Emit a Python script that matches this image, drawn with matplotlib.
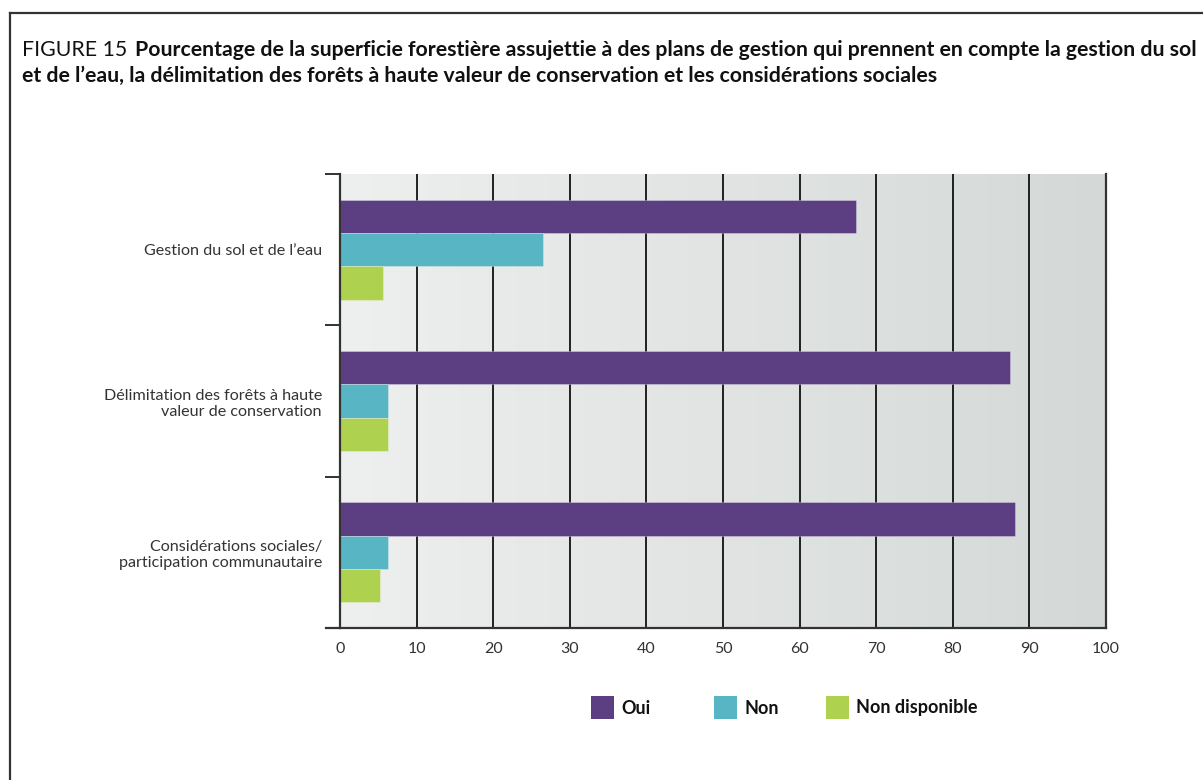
#!/usr/bin/env python3
"""Share of forest area under management plans that address soil/water,
high-conservation-value forests and social considerations (figure 15)."""
import matplotlib
matplotlib.use("Agg")
import matplotlib.pyplot as plt
import numpy as np
from matplotlib.lines import Line2D
from matplotlib.patches import Rectangle

categories = [
    "Gestion du sol et de l\u2019eau",
    "D\u00e9limitation des for\u00eats \u00e0 haute\nvaleur de conservation",
    "Consid\u00e9rations sociales/\nparticipation communautaire",
]
series_names = ["Oui", "Non", "Non disponible"]
oui = [67.4, 87.5, 88.1]
non = [26.5, 6.3, 6.3]
non_dispo = [5.6, 6.3, 5.2]
x_ticks = [0, 10, 20, 30, 40, 50, 60, 70, 80, 90, 100]

colors = ["#5c3f82", "#58b5c3", "#aed150"]
label_font = ["Lato", "DejaVu Sans"]
title_font = ["Lato", "DejaVu Sans"]

W, H = 1203, 780
fig = plt.figure(figsize=(W / 100, H / 100), dpi=100)
ax = fig.add_axes([340 / W, 1 - 628 / H, 766 / W, 454 / H])

# soft left-to-right grey gradient behind the bars
grad = np.linspace(0, 1, 256)[None, :]
c0 = np.array([0xee, 0xef, 0xef]) / 255
c1 = np.array([0xd4, 0xd9, 0xd7]) / 255
img = c0[None, None, :] * (1 - grad[..., None]) + c1[None, None, :] * grad[..., None]
ax.imshow(img, extent=[0, 100, 2.5, -0.5], aspect="auto", zorder=0)

y = np.arange(len(categories))
h = 0.22
for vals, off, col, name in zip([oui, non, non_dispo], [-h, 0, h], colors, series_names):
    ax.barh(y + off, vals, height=h, color=col, edgecolor="#ffffff55",
            linewidth=0.6, zorder=3, label=name)

ax.set_xlim(0, 100)
ax.set_ylim(2.5, -0.5)

for v in x_ticks[1:-1]:
    ax.axvline(v, color="#111111", lw=1.3, zorder=1)

ax.set_xticks(x_ticks)
ax.set_xticklabels([str(v) for v in x_ticks], family=label_font, fontsize=11.5,
                   color="#333333")
ax.tick_params(axis="x", length=0, pad=10)

# category boundaries carry the tick marks, labels sit at the centres
ax.set_yticks([-0.5, 0.5, 1.5, 2.5])
ax.set_yticklabels([])
ax.tick_params(axis="y", which="major", length=11, width=1.3, color="#222222")
ax.set_yticks(y, minor=True)
ax.set_yticklabels(categories, minor=True, family=label_font, fontsize=11.6,
                   color="#333333", linespacing=1.2)
ax.tick_params(axis="y", which="minor", length=0, pad=13)

ax.spines["top"].set_visible(False)
for side in ["left", "right", "bottom"]:
    ax.spines[side].set_color("#333333")
    ax.spines[side].set_linewidth(1.6)
ax.spines["left"].set_zorder(4)

# bottom spine runs a little past the y axis, like the boundary ticks
fig.add_artist(Line2D([326 / W, 340 / W], [1 - 628 / H] * 2,
                      color="#333333", lw=1.6))

# legend row
legend_x = [591, 714, 826]
for lx, col, name in zip(legend_x, colors, series_names):
    fig.add_artist(Rectangle((lx / W, 1 - 719 / H), 23 / W, 23 / H,
                             facecolor=col, edgecolor="none"))
    fig.text((lx + 30) / W, 1 - 708 / H, name, family=label_font, weight="bold",
             fontsize=13, va="center", color="#111111")

# title, sized so the first line spans the page width
line1_head = "FIGURE 15"
line1_bold = ("Pourcentage de la superficie foresti\u00e8re assujettie \u00e0 des plans de "
              "gestion qui prennent en compte la gestion du sol")
line2_bold = ("et de l\u2019eau, la d\u00e9limitation des for\u00eats \u00e0 haute valeur de "
              "conservation et les consid\u00e9rations sociales")
fs = 14.5
t_bold = fig.text(135 / W, 1 - 50 / H, line1_bold, family=title_font, fontsize=fs,
                  weight="bold", va="center", color="#111111")
renderer = fig.canvas.get_renderer()
width = t_bold.get_window_extent(renderer).width
fs = fs * (1197 - 135) / width
t_bold.set_fontsize(fs)
fig.text(22 / W, 1 - 50 / H, line1_head, family=title_font, fontsize=fs,
         va="center", color="#111111")
fig.text(22 / W, 1 - 76 / H, line2_bold, family=title_font, fontsize=fs,
         weight="bold", va="center", color="#111111")

# page frame around the figure
fig.add_artist(Line2D([10 / W, 1], [1 - 13 / H] * 2, color="#333333", lw=1.6))
fig.add_artist(Line2D([10 / W] * 2, [0, 1 - 13 / H], color="#333333", lw=1.6))

fig.savefig("out.png", dpi=100)
